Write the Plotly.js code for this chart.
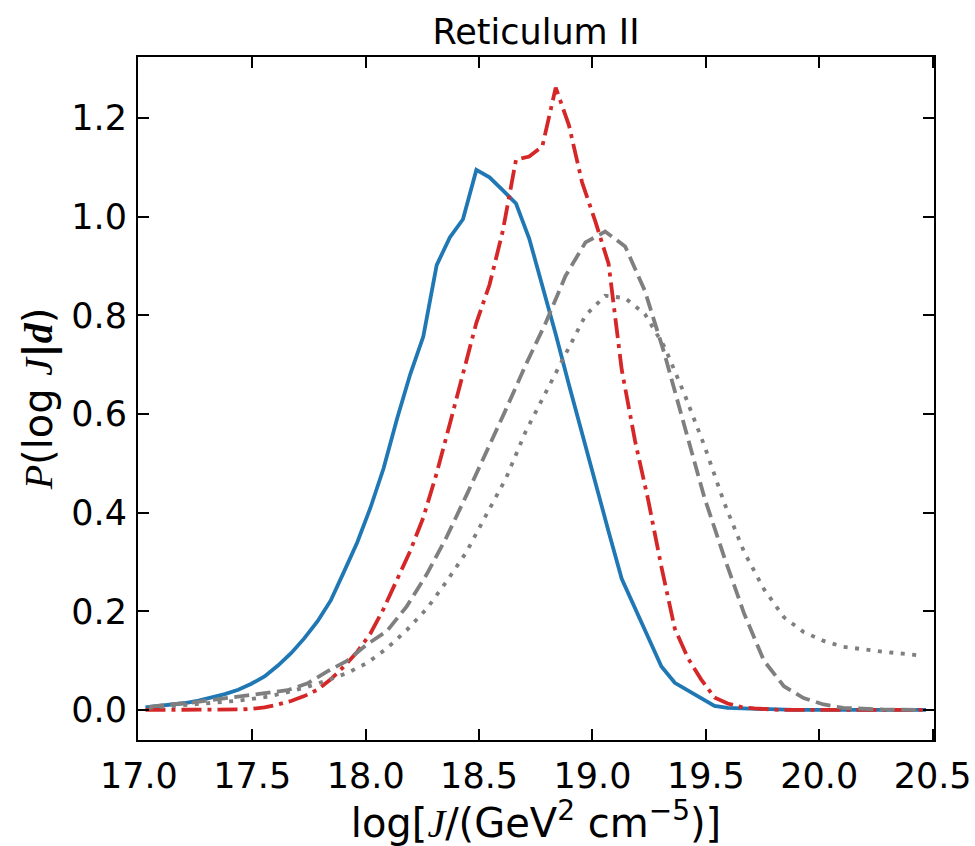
<!DOCTYPE html>
<html>
<head>
<meta charset="utf-8">
<script src="https://cdn.plot.ly/plotly-3.0.1.min.js"></script>
<style>html,body{margin:0;padding:0;background:#fff;}#chart{width:975px;height:846px;}</style>
</head>
<body>
<div id="chart"></div>
<script>
// bin centres (60 bins) for the two coloured curves
const xFine = [17.029,17.088,17.146,17.204,17.263,17.321,17.379,17.438,17.496,17.554,
  17.613,17.671,17.729,17.788,17.846,17.904,17.963,18.021,18.079,18.138,
  18.196,18.254,18.313,18.371,18.429,18.488,18.546,18.604,18.663,18.721,
  18.779,18.838,18.896,18.954,19.013,19.071,19.129,19.188,19.246,19.304,
  19.363,19.421,19.479,19.538,19.596,19.654,19.713,19.771,19.829,19.888,
  19.946,20.004,20.063,20.121,20.179,20.238,20.296,20.354,20.413,20.471];
// bin centres (40 bins) for the two gray curves
const xCoarse = [17.044,17.131,17.219,17.306,17.394,17.481,17.569,17.656,17.744,17.831,
  17.919,18.006,18.094,18.181,18.269,18.356,18.444,18.531,18.619,18.706,
  18.794,18.881,18.969,19.056,19.144,19.231,19.319,19.406,19.494,19.581,
  19.669,19.756,19.844,19.931,20.019,20.106,20.194,20.281,20.369,20.456];

const blueSolid = [0.005,0.008,0.011,0.014,0.019,0.025,0.032,0.041,0.053,0.068,
  0.090,0.115,0.145,0.180,0.222,0.280,0.340,0.410,0.490,0.590,
  0.680,0.757,0.902,0.958,0.995,1.095,1.080,1.054,1.027,0.956,
  0.862,0.762,0.660,0.560,0.465,0.362,0.266,0.205,0.147,0.088,
  0.055,0.040,0.025,0.008,0.004,0.003,0.002,0.001,0.001,0,
  0,0,0,0,0,0,0,0,0,0];
const redDashDot = [0,0,0,0,0,0,0,0.001,0.002,0.005,
  0.011,0.018,0.028,0.041,0.062,0.088,0.118,0.155,0.205,0.262,
  0.322,0.390,0.480,0.580,0.685,0.785,0.862,0.970,1.116,1.122,
  1.143,1.262,1.186,1.070,0.990,0.905,0.690,0.545,0.425,0.290,
  0.165,0.105,0.062,0.025,0.013,0.006,0.003,0.001,0,0,
  0,0,0,0,0,0,0,0,0,0];
const grayDashed = [0.006,0.011,0.014,0.019,0.025,0.030,0.034,0.040,0.054,0.078,
  0.100,0.133,0.160,0.210,0.275,0.350,0.435,0.520,0.610,0.700,
  0.785,0.880,0.948,0.970,0.940,0.850,0.720,0.575,0.430,0.310,
  0.195,0.100,0.048,0.024,0.011,0.004,0.002,0.001,0.0005,0];
const grayDotted = [0.004,0.007,0.010,0.013,0.017,0.021,0.027,0.036,0.047,0.060,
  0.075,0.095,0.125,0.162,0.205,0.260,0.320,0.395,0.470,0.565,
  0.645,0.720,0.800,0.840,0.835,0.803,0.735,0.640,0.535,0.420,
  0.320,0.245,0.188,0.158,0.140,0.128,0.122,0.118,0.114,0.110];

const xTicks = [17.0,17.5,18.0,18.5,19.0,19.5,20.0,20.5];
const xTickText = ['17.0','17.5','18.0','18.5','19.0','19.5','20.0','20.5'];
const yTicks = [0.0,0.2,0.4,0.6,0.8,1.0,1.2];
const yTickText = ['0.0','0.2','0.4','0.6','0.8','1.0','1.2'];

const traces = [
  {x:xFine, y:blueSolid, mode:'lines', line:{color:'#1f77b4', width:3.8}},
  {x:xFine, y:redDashDot, mode:'lines', line:{color:'#d62728', width:3.8, dash:'20px,6px,4px,6px'}},
  {x:xCoarse, y:grayDashed, mode:'lines', line:{color:'#7f7f7f', width:3.8, dash:'15px,6.5px'}},
  {x:xCoarse, y:grayDotted, mode:'lines', line:{color:'#7f7f7f', width:3.8, dash:'4px,7.5px'}}
];

const serif = 'font-family:Liberation Serif';
const axisCommon = {
  showgrid:false, zeroline:false, showline:true, linecolor:'#000', linewidth:2,
  mirror:'allticks', ticks:'inside', ticklen:11, tickwidth:2, tickcolor:'#000',
  tickfont:{family:'DejaVu Sans', size:35, color:'#000'}, automargin:false
};

const layout = {
  width:975, height:846,
  margin:{l:138, r:41, t:57, b:106, pad:0},
  paper_bgcolor:'#fff', plot_bgcolor:'#fff',
  showlegend:false,
  title:{text:'Reticulum II', font:{family:'DejaVu Sans', size:35, color:'#000'},
         x:0.5, xref:'paper', y:0.962, yref:'container', yanchor:'middle'},
  xaxis:Object.assign({}, axisCommon, {
    range:[16.996, 20.506], tickmode:'array', tickvals:xTicks, ticktext:xTickText,
    ticklabelstandoff:4,
    title:{text:'log[<span style="'+serif+'"><i>J</i></span>/(GeV<sup>2</sup> cm<sup>−5</sup>)]',
           font:{family:'DejaVu Sans', size:40, color:'#000'}, standoff:12}
  }),
  yaxis:Object.assign({}, axisCommon, {
    range:[-0.061, 1.324], tickmode:'array', tickvals:yTicks, ticktext:yTickText,
    ticklabelstandoff:2,
    title:{text:'<span style="'+serif+'"><i>P</i></span>(log <span style="'+serif+'"><i>J</i></span><b>|</b><span style="'+serif+'"><b><i>d</i></b></span>)',
           font:{family:'DejaVu Sans', size:40, color:'#000'}, standoff:6}
  })
};

Plotly.newPlot('chart', traces, layout, {displayModeBar:false, staticPlot:true});
</script>
</body>
</html>
